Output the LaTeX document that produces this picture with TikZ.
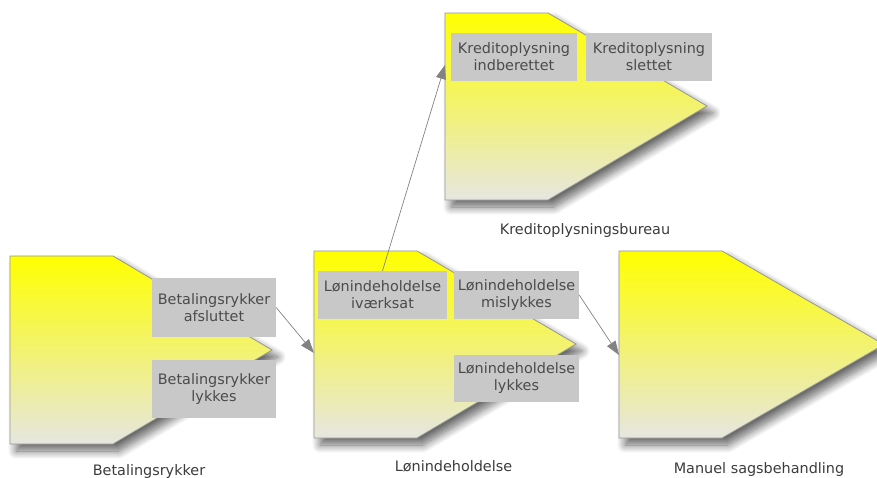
\documentclass[tikz,border=0pt]{standalone}
\usepackage{fontspec}
\setmainfont{DejaVu Sans}
\usetikzlibrary{arrows.meta,shadows.blur}

\definecolor{shapetop}{RGB}{255,255,0}
\definecolor{shapebottom}{RGB}{230,230,225}
\definecolor{shapeedge}{RGB}{150,150,150}
\definecolor{labelfill}{RGB}{200,200,200}
\definecolor{labeltext}{RGB}{75,75,75}
\definecolor{captiontext}{RGB}{60,60,60}
\definecolor{linkgray}{RGB}{130,130,130}

\tikzset{
  stage/.style={draw=shapeedge, line width=0.8pt, top color=shapetop, bottom color=shapebottom,
    blur shadow={shadow xshift=6pt, shadow yshift=-7pt, shadow blur radius=8pt,
      shadow blur steps=12, shadow opacity=60}},
  event/.style={fill=labelfill, text=labeltext, font=\fontsize{14.4}{17}\selectfont,
    align=center, inner sep=0pt, minimum width=126pt, minimum height=48pt},
  caption/.style={text=captiontext, font=\fontsize{14.4}{17}\selectfont, anchor=base},
  link/.style={draw=linkgray, line width=0.7pt, -{Triangle[length=14pt,width=10pt]}},
}

\begin{document}
\begin{tikzpicture}[x=1pt,y=-1pt]
  \useasboundingbox (0,0) rectangle (877,477);

  % process stages (arrow-like pentagons)
  \draw[stage] (445,13) -- (548,13) -- (707,106) -- (548,200) -- (445,200) -- cycle;
  \draw[stage] (10,256) -- (113,256) -- (272,350) -- (113,444) -- (10,444) -- cycle;
  \draw[stage] (314,251) -- (417,251) -- (576,344) -- (417,438) -- (314,438) -- cycle;
  \draw[stage] (619,251) -- (722,251) -- (884,344.5) -- (722,438) -- (619,438) -- cycle;

  % entry points on the left edges of the stages
  \coordinate (kredit-in) at (445,65);
  \coordinate (lon-in) at (314,353);
  \coordinate (manuel-in) at (619,355);

  % stage captions
  \node[caption] (cap-kredit) at (585,234) {Kreditoplysningsbureau};
  \node[caption] (cap-betal) at (149,475) {Betalingsrykker};
  \node[caption] (cap-lon) at (453.5,471) {Lønindeholdelse};
  \node[caption] (cap-manuel) at (759,473) {Manuel sagsbehandling};

  % events
  \node[event] (kredit-ind) at (514,57) {Kreditoplysning\\indberettet};
  \node[event] (kredit-slet) at (649,57) {Kreditoplysning\\slettet};
  \node[event, minimum width=124pt, minimum height=59pt] (betal-afs) at (214,307.5) {Betalingsrykker\\afsluttet};
  \node[event, minimum width=124pt, minimum height=58pt] (betal-lyk) at (214,389) {Betalingsrykker\\lykkes};
  \node[event, minimum width=129pt] (lon-iv) at (382.5,295) {Lønindeholdelse\\iværksat};
  \node[event, minimum width=125pt] (lon-mis) at (516.5,295) {Lønindeholdelse\\mislykkes};
  \node[event, minimum width=125pt, minimum height=47pt] (lon-lyk) at (516.5,378.5) {Lønindeholdelse\\lykkes};

  % transitions
  \draw[link] (betal-afs.east) -- (lon-in);
  \draw[link] (lon-iv.north) -- (kredit-in);
  \draw[link] (lon-mis.east) -- (manuel-in);
\end{tikzpicture}
\end{document}
